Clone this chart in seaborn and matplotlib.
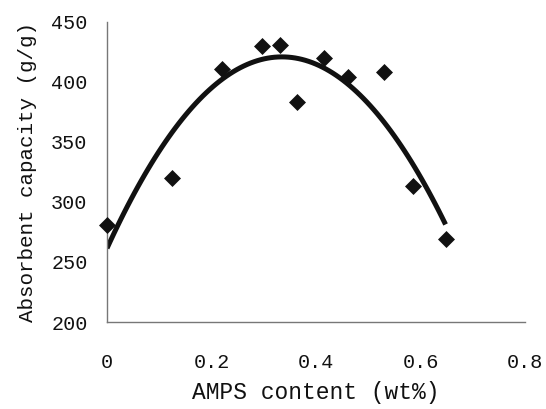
import matplotlib
matplotlib.use("Agg")
import matplotlib.pyplot as plt
import seaborn as sns
import pandas as pd

# Data
ampS_content = [0.0, 0.124, 0.221, 0.297, 0.331, 0.363, 0.415, 0.461, 0.531, 0.585, 0.648]
absorbency = [281, 320, 411, 430, 431, 383, 420, 404, 408, 313, 269]
x_ticks = [0, 0.2, 0.4, 0.6, 0.8]
x_tick_labels = ["0", "0.2", "0.4", "0.6", "0.8"]
y_ticks = [200, 250, 300, 350, 400, 450]

df = pd.DataFrame({"x": ampS_content, "y": absorbency})

sns.set_style("white")
plt.rcParams["font.family"] = ["Liberation Mono", "DejaVu Sans Mono"]

fig = plt.figure(figsize=(5.46, 4.09), dpi=100)
ax = fig.add_axes([0.196, 0.2127, 0.7655, 0.7337])

sns.regplot(data=df, x="x", y="y", order=2, ci=None, scatter=False,
            line_kws={"color": "#111111", "lw": 3.6, "solid_capstyle": "butt"}, ax=ax)
sns.scatterplot(data=df, x="x", y="y", marker="D", s=75, color="#111111",
                edgecolor="#111111", linewidth=0, ax=ax, zorder=3, clip_on=False)

ax.set_xlim(0, 0.8)
ax.set_ylim(200, 450)
ax.set_xticks(x_ticks)
ax.set_xticklabels(x_tick_labels)
ax.set_yticks(y_ticks)

for s in ["top", "right"]:
    ax.spines[s].set_visible(False)
for s in ["left", "bottom"]:
    ax.spines[s].set_color("#777777")
    ax.spines[s].set_linewidth(1.0)

ax.tick_params(axis="both", direction="in", length=6, width=1.0, color="#777777",
               labelsize=14.5, labelcolor="#111111")
ax.tick_params(axis="x", pad=22)
ax.tick_params(axis="y", pad=14)

ax.set_xlabel("AMPS content (wt%)", fontsize=16.5, color="#111111", labelpad=7)
ax.set_ylabel("Absorbent capacity (g/g)", fontsize=15, color="#111111", labelpad=10)

fig.savefig("out.png", dpi=100)
